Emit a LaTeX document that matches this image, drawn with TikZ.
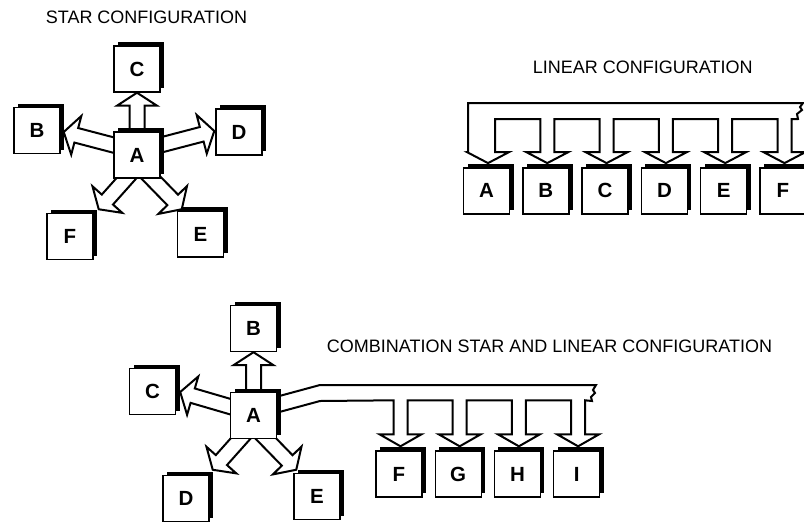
\documentclass[tikz,border=0pt]{standalone}
\usepackage{fontspec}
\setmainfont{Liberation Sans}
\usetikzlibrary{calc,shadows}
\pgfdeclarelayer{bg}
\pgfsetlayers{bg,main}
\newcommand{\blockarrow}[2]{%
  \path let \p1=($(#2)-(#1)$) in \pgfextra{%
    \pgfmathsetmacro\tmpang{atan2(\y1,\x1)}%
    \pgfmathsetmacro\tmplen{veclen(\x1,\y1)}%
    \global\let\baang\tmpang \global\let\balen\tmplen};
  \begin{scope}[shift={(#1)},rotate=\baang]
    \draw[barrow] (-14pt,-7.5pt) -- ({\balen pt-13pt},-7.5pt) -- ({\balen pt-13pt},-20pt) -- ({\balen pt},0pt) -- ({\balen pt-13pt},20pt) -- ({\balen pt-13pt},7.5pt) -- (-14pt,7.5pt) -- cycle;
  \end{scope}}
\begin{document}
\begin{tikzpicture}[x=1pt,y=-1pt,
  box/.style={draw=black, line width=1.4pt, fill=white, minimum size=46pt, inner sep=0pt,
    font=\fontsize{20.5}{20.5}\selectfont\bfseries,
    drop shadow={shadow xshift=4pt, shadow yshift=4pt, fill=black, opacity=1}},
  title/.style={anchor=base, inner sep=0pt, font=\fontsize{18}{20}\selectfont},
  barrow/.style={draw=black, line width=2pt, fill=white, line join=miter},
  bus/.style={draw=black, line width=2pt, fill=white, line join=miter}]
\useasboundingbox (0,0) rectangle (804,523);
\clip (0,0) rectangle (804,523);

% titles
\node[title] (tstar) at (146.5,23) {STAR CONFIGURATION};
\node[title] (tlin) at (642.8,73.5) {LINEAR CONFIGURATION};
\node[title] (tcomb) at (549.5,352) {COMBINATION STAR AND LINEAR CONFIGURATION};

% star configuration
\node[box] (SA) at (137,155) {A};
\node[box] (SB) at (37,130.5) {B};
\node[box] (SC) at (137,69) {C};
\node[box] (SD) at (239,132) {D};
\node[box] (SE) at (200.5,234) {E};
\node[box] (SF) at (70,236.5) {F};

\coordinate (sAC) at (SA.north);
\coordinate (tAC) at (SC.south);
\coordinate (sAB) at ($(SA.west)+(0,-10)$);
\coordinate (tAB) at ($(SB.east)+(3,1.5)$);
\coordinate (sAD) at ($(SA.east)+(0,-10)$);
\coordinate (tAD) at ($(SD.west)+(-1,-1)$);
\coordinate (sAF) at ($(SA.south)+(-11,0)$);
\coordinate (tAF) at ($(SF.north east)+(5,-3.5)$);
\coordinate (sAE) at ($(SA.south)+(15,0)$);
\coordinate (tAE) at ($(SE.north west)+(5,-1)$);

% linear configuration
\foreach \n [count=\i from 0] in {A,B,C,D,E,F}
  \node[box] (L\n) at ({486.5+59.3*\i},190.8) {\n};
\foreach \n in {A,B,C,D,E,F}
  \coordinate (Lt\n) at ($(L\n.north)+(1.5,-4)$);

% combination
\node[box] (CA) at (253.5,415.5) {A};
\node[box] (CB) at (253.5,328.5) {B};
\node[box] (CC) at (152.5,391.5) {C};
\node[box] (CD) at (186,498.5) {D};
\node[box] (CE) at (317,496.5) {E};
\foreach \n [count=\i from 0] in {F,G,H,I}
  \node[box] (C\n) at ({399+59.2*\i},474) {\n};
\foreach \n in {F,G,H,I}
  \coordinate (Ct\n) at ($(C\n.north)+(1.5,-4)$);

\coordinate (csAB) at (CA.north);
\coordinate (ctAB) at (CB.south);
\coordinate (csAC) at ($(CA.west)+(0,-9)$);
\coordinate (ctAC) at ($(CC.east)+(4,0.5)$);
\coordinate (csAD) at ($(CA.south)+(-13.5,0)$);
\coordinate (ctAD) at ($(CD.north east)+(3,-5)$);
\coordinate (csAE) at ($(CA.south)+(13,0)$);
\coordinate (ctAE) at ($(CE.north west)+(3,-3)$);
\coordinate (cbt) at ($(CA.center)+(0,-12.5)$);
\coordinate (cbi) at ($(CA.center)+(0,3.5)$);

\begin{pgfonlayer}{bg}
  \blockarrow{sAC}{tAC}
  \blockarrow{sAB}{tAB}
  \blockarrow{sAD}{tAD}
  \blockarrow{sAF}{tAF}
  \blockarrow{sAE}{tAE}
  \blockarrow{csAB}{ctAB}
  \blockarrow{csAC}{ctAC}
  \blockarrow{csAD}{ctAD}
  \blockarrow{csAE}{ctAE}
  % linear bus
  \draw[bus] (468,103) -- (803,103) -- (800,107) -- (802,110) -- (797,114) -- (798,119)
    \foreach \n in {F,E,D,C,B}{ -- ($(Lt\n)+(7,-44)$) -- ($(Lt\n)+(7,-11)$) -- ($(Lt\n)+(21,-11)$) -- (Lt\n) -- ($(Lt\n)+(-21,-11)$) -- ($(Lt\n)+(-7,-11)$) -- ($(Lt\n)+(-7,-44)$) }
    -- ($(LtA)+(7,-44)$) -- ($(LtA)+(7,-11)$) -- ($(LtA)+(21,-11)$) -- (LtA) -- ($(LtA)+(-21,-11)$) -- (468,152) -- cycle;
  % combination bus
  \draw[bus] (cbt) -- (320,385) -- (596,385) -- (593,390) -- (595,393) -- (591,397) -- (592,401)
    \foreach \n in {I,H,G,F}{ -- ($(Ct\n)+(7,-46)$) -- ($(Ct\n)+(7,-12)$) -- ($(Ct\n)+(21,-12)$) -- (Ct\n) -- ($(Ct\n)+(-21,-12)$) -- ($(Ct\n)+(-7,-12)$) -- ($(Ct\n)+(-7,-46)$) }
    -- (320,401) -- (cbi) -- cycle;
\end{pgfonlayer}
\end{tikzpicture}
\end{document}
